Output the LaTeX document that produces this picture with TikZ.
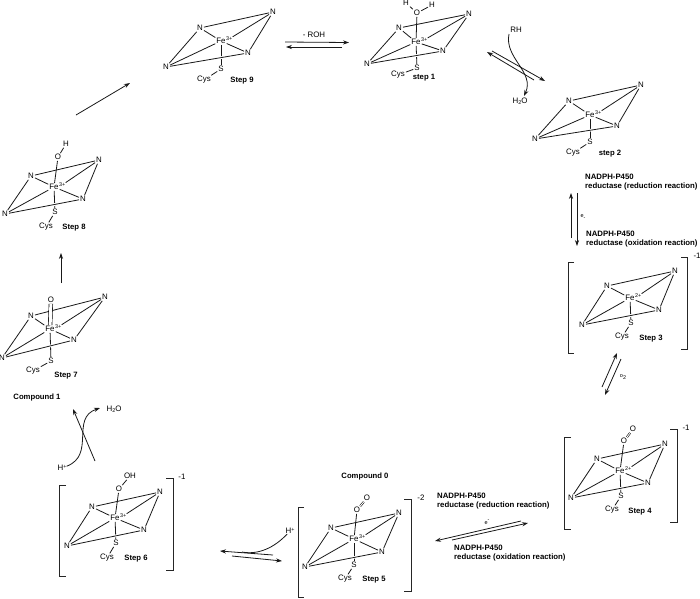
\documentclass[tikz,border=0pt]{standalone}
\usepackage{fontspec}
\setmainfont{Liberation Sans}
\usetikzlibrary{arrows.meta}
\newcommand{\upidx}[1]{\raisebox{2.6pt}{\fontsize{5.4}{5.4}\selectfont #1}}
\newcommand{\dnidx}[1]{\raisebox{-1.4pt}{\fontsize{5.4}{5.4}\selectfont #1}}
% prefix, W, TL, TR, BR, Fe, S, Cys, oxidation state
\newcommand{\heme}[9]{%
  \node[atom] (#1w) at (#2) {N};
  \node[atom] (#1tl) at (#3) {N};
  \node[atom] (#1tr) at (#4) {N};
  \node[atom] (#1br) at (#5) {N};
  \node[atom] (#1fe) at (#6) {Fe};
  \node[ox,anchor=west] (#1ox) at ([xshift=-1.2pt,yshift=2pt]#1fe.east) {#9};
  \node[atom] (#1s) at (#7) {S};
  \node[atom] (#1cys) at (#8) {Cys};
  \draw[bond] (#1fe) -- (#1s);
  \draw[bond] (#1s) -- (#1cys);
  \draw[bond] (#1w) -- (#1tl);
  \draw[bond] (#1tl) -- (#1tr);
  \draw[bond] (#1tr) -- (#1br);
  \draw[bond] (#1tl) -- (#1fe);
  \draw[bond] (#1tr) -- (#1ox);
  \draw[bond] (#1br) -- (#1fe);
  \draw[bond] (#1w) -- (#1fe);
  \draw[bond,preaction={draw=white,line width=2.6pt,shorten >=6pt,shorten <=6pt}] (#1w) -- (#1br);
}
\tikzset{
  x=1pt,y=-1pt,
  atom/.style={font=\fontsize{7.9}{9}\selectfont,inner sep=0.9pt},
  ox/.style={font=\fontsize{5.4}{6}\selectfont,inner sep=0.3pt},
  steplabel/.style={font=\fontsize{7.7}{9}\selectfont\bfseries,inner sep=0pt},
  redox/.style={font=\fontsize{7.8}{9.2}\selectfont\bfseries,inner sep=0pt,align=left,anchor=north west},
  note/.style={font=\fontsize{7.9}{9}\selectfont,inner sep=0pt},
  tiny/.style={font=\fontsize{5.5}{6}\selectfont,inner sep=0pt},
  bond/.style={line width=0.8pt,black!90},
  rxn/.style={line width=0.8pt,black!90,-{Stealth[length=6pt,width=4.2pt]}},
  brk/.style={line width=0.9pt,black!85}
}
\begin{document}
\begin{tikzpicture}
\useasboundingbox (0,0) rectangle (700,598);
% Step 9
\heme{a}{166,67}{200,28}{273,12}{248,53}{221,41}{221,69}{204,80}{3+}
\node[steplabel] (alab) at (242,81) {Step 9};
% Step 1
\heme{b}{367,64}{399,28}{469,14}{443,51}{416,42}{417,68}{398,75}{3+}
\node[steplabel] (blab) at (424,78) {step 1};
\node[atom] (bo) at (417,13) {O};
\node[atom] (bh1) at (406,3) {H};
\node[atom] (bh2) at (432,5) {H};
\draw[bond] (bo) -- (bfe);
\draw[bond] (bo) -- (bh1);
\draw[bond] (bo) -- (bh2);
% Step 2
\heme{c}{535,139}{569,101}{641,85}{617,126}{590,115}{590,142}{573,153}{3+}
\node[steplabel] (clab) at (610,154) {step 2};
% Step 3
\heme{d}{582,325}{607,286}{675,271}{659,310}{630,298}{631,323}{622,337}{2+}
\node[steplabel] (dlab) at (651,339) {Step 3};
% Step 4
\heme{e}{571,498}{597,459}{665,444}{648,483}{620,471}{621,496}{612,510}{2+}
\node[steplabel] (elab) at (640,512) {Step 4};
\node[atom] (eo) at (624,441) {O};
\node[atom] (eo2) at (633,429) {O};
\draw[bond] (eo) -- (efe);
\draw[line width=0.55pt,double,double distance=0.9pt] (eo) -- (eo2);
% Step 5
\heme{f}{305,567}{331,528}{399,513}{382,552}{354,539}{354,565}{345,579}{3+}
\node[steplabel] (flab) at (374,580) {Step 5};
\node[atom] (fo) at (357,510) {O};
\node[atom] (fo2) at (367,498) {O};
\draw[bond] (fo) -- (ffe);
\draw[line width=0.55pt,double,double distance=0.9pt] (fo) -- (fo2);
% Step 6
\heme{g}{67,546}{92,507}{160,492}{144,530}{115,518}{116,543}{107,558}{3+}
\node[steplabel] (glab) at (136,559) {Step 6};
\node[atom] (go) at (119,489) {O};
\node[atom] (goh) at (130,476) {OH};
\draw[bond] (go) -- (gfe);
\draw[bond] (go) -- (goh);
% Step 7
\heme{h}{2,358}{31,316}{105,297}{74,340}{50,329}{51,361}{33,371}{3+}
\node[steplabel] (hlab) at (66,376) {Step 7};
\node[atom] (ho) at (51,300) {O};
\draw[line width=0.65pt,double,double distance=3pt] (ho) -- (hfe);
% Step 8
\heme{i}{5,214}{31,176}{99,160}{83,199}{54,187}{55,212}{46,227}{3+}
\node[steplabel] (ilab) at (74,228) {Step 8};
\node[atom] (io) at (58,157) {O};
\node[atom] (ih) at (66,144) {H};
\draw[bond] (io) -- (ife);
\draw[bond] (io) -- (ih);
% Brackets
\coordinate (d1) at (574,262); \coordinate (d2) at (568,262); \coordinate (d3) at (568,353); \coordinate (d4) at (574,353);
\draw[brk] (d1) -- (d2) -- (d3) -- (d4);
\coordinate (d5) at (681,257); \coordinate (d6) at (687,257); \coordinate (d7) at (687,349); \coordinate (d8) at (681,349);
\draw[brk] (d5) -- (d6) -- (d7) -- (d8);
\node[note] (dch) at (697,256) {-1};
\coordinate (e1) at (571,437); \coordinate (e2) at (564,437); \coordinate (e3) at (564,529); \coordinate (e4) at (571,529);
\draw[brk] (e1) -- (e2) -- (e3) -- (e4);
\coordinate (e5) at (670,429); \coordinate (e6) at (677,429); \coordinate (e7) at (677,522); \coordinate (e8) at (670,522);
\draw[brk] (e5) -- (e6) -- (e7) -- (e8);
\node[note] (ech) at (686,428) {-1};
\coordinate (f1) at (304,507); \coordinate (f2) at (298,507); \coordinate (f3) at (298,597); \coordinate (f4) at (304,597);
\draw[brk] (f1) -- (f2) -- (f3) -- (f4);
\coordinate (f5) at (404,499); \coordinate (f6) at (411,499); \coordinate (f7) at (411,591); \coordinate (f8) at (404,591);
\draw[brk] (f5) -- (f6) -- (f7) -- (f8);
\node[note] (fch) at (421,498) {-2};
\coordinate (g1) at (66,485); \coordinate (g2) at (59,485); \coordinate (g3) at (59,576); \coordinate (g4) at (66,576);
\draw[brk] (g1) -- (g2) -- (g3) -- (g4);
\coordinate (g5) at (166,478); \coordinate (g6) at (173,478); \coordinate (g7) at (173,570); \coordinate (g8) at (166,570);
\draw[brk] (g5) -- (g6) -- (g7) -- (g8);
\node[note] (gch) at (182,477) {-1};
% Reaction 9-1
\node[note] (roh) at (314,35) {- ROH};
\coordinate (r1) at (285,42); \coordinate (r2) at (349,42.5);
\coordinate (r3) at (342,47); \coordinate (r4) at (286,47);
\draw[rxn] (r1) -- (r2);
\draw[rxn] (r3) -- (r4);
% Reaction 1-2
\coordinate (s1) at (492,51); \coordinate (s2) at (545,81);
\coordinate (s3) at (534,80); \coordinate (s4) at (487,52);
\draw[rxn] (s1) -- (s2);
\draw[rxn] (s3) -- (s4);
\node[note] (rh) at (516,30) {RH};
\node[note] (wat) at (520,101) {H\dnidx{2}O};
\coordinate (s5) at (509,34); \coordinate (s6) at (524,96);
\draw[rxn] (s5) .. controls (504,58) and (535,72) .. (s6);
% Reaction 2-3
\node[redox] (ra) at (585,173.5) {NADPH-P450\\reductase (reduction reaction)};
\node[redox] (rb) at (586,230.5) {NADPH-P450\\reductase (oxidation reaction)};
\coordinate (t1) at (571,238); \coordinate (t2) at (571,193);
\coordinate (t3) at (577,193); \coordinate (t4) at (577,246);
\draw[rxn] (t1) -- (t2);
\draw[rxn] (t3) -- (t4);
\node[tiny] (el1) at (583,217) {e\dnidx{-}};
% Reaction 3-4
\coordinate (u1) at (602,387); \coordinate (u2) at (617,353);
\coordinate (u3) at (621,359); \coordinate (u4) at (605,395);
\draw[rxn] (u1) -- (u2);
\draw[rxn] (u3) -- (u4);
\node[tiny] (o2) at (623,377) {o\dnidx{2}};
% Reaction 4-5
\node[redox] (rc) at (437,492.5) {NADPH-P450\\reductase (reduction reaction)};
\node[redox] (rd) at (454,545) {NADPH-P450\\reductase (oxidation reaction)};
\coordinate (v1) at (521,521); \coordinate (v2) at (435,541);
\coordinate (v3) at (452,540); \coordinate (v4) at (528,523);
\draw[rxn] (v1) -- (v2);
\draw[rxn] (v3) -- (v4);
\node[tiny] (el2) at (487,522) {e\upidx{-}};
\node[steplabel] (c0) at (365,476) {Compound 0};
% Reaction 5-6
\coordinate (w1) at (273,555); \coordinate (w2) at (220,551);
\coordinate (w3) at (232,556); \coordinate (w4) at (282,561);
\draw[rxn] (w1) -- (w2);
\draw[rxn] (w3) -- (w4);
\node[note] (hp1) at (290,531) {H\upidx{+}};
\coordinate (w5) at (242,552);
\draw[bond] (hp1) .. controls (274,548) and (258,555) .. (w5);
% Reaction 6-7
\coordinate (x1) at (95,461); \coordinate (x2) at (73,409);
\draw[rxn] (x1) -- (x2);
\node[note] (hp2) at (62,468) {H\upidx{+}};
\node[note] (wat2) at (114,409) {H\dnidx{2}O};
\coordinate (x3) at (100,408);
\draw[rxn] (hp2) .. controls (96,455) and (70,418) .. (x3);
\node[steplabel] (c1) at (37,397) {Compound 1};
% Reaction 7-8
\coordinate (y1) at (61,283); \coordinate (y2) at (61,253);
\draw[rxn] (y1) -- (y2);
% Reaction 8-9
\coordinate (z1) at (76,115); \coordinate (z2) at (130,83);
\draw[rxn] (z1) -- (z2);
\end{tikzpicture}
\end{document}
